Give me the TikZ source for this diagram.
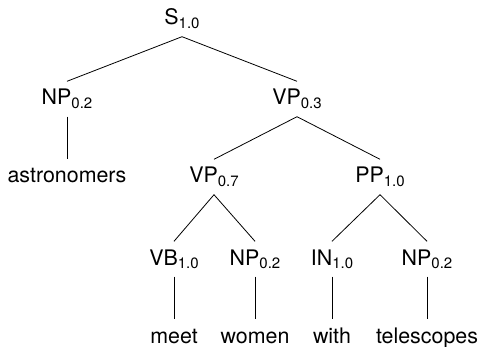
\documentclass[tikz,border=0pt]{standalone}
\usepackage{fontspec}
\setmainfont{TeX Gyre Heros}
% category label with a lowered probability subscript
\newcommand{\syncat}[2]{#1\raisebox{-3.3pt}{\fontsize{15}{15}\selectfont #2}}
\begin{document}
\begin{tikzpicture}[x=1pt,y=-1pt,
  tn/.style={inner xsep=0pt, inner ysep=7.5pt, text height=16pt, text depth=4pt,
             anchor=base, font=\fontsize{21.4}{25}\selectfont},
  edge/.style={draw=black, line width=0.8pt}]
\useasboundingbox (0,0) rectangle (481,347);
% constituents
\node[tn] (s)    at (182,25)  {\syncat{S}{1.0}};
\node[tn] (np1)  at (67,105)  {\syncat{NP}{0.2}};
\node[tn] (vp1)  at (297,105) {\syncat{VP}{0.3}};
\node[tn] (astr) at (67,183)  {astronomers};
\node[tn] (vp2)  at (214,183) {\syncat{VP}{0.7}};
\node[tn] (pp)   at (380,183) {\syncat{PP}{1.0}};
\node[tn] (vb)   at (174,265) {\syncat{VB}{1.0}};
\node[tn] (np2)  at (255,265) {\syncat{NP}{0.2}};
\node[tn] (in)   at (332,265) {\syncat{IN}{1.0}};
\node[tn] (np3)  at (427,265) {\syncat{NP}{0.2}};
\node[tn] (meet) at (174,343) {meet};
\node[tn] (wom)  at (255,343) {women};
\node[tn] (with) at (332,343) {with};
\node[tn] (tel)  at (427,343) {telescopes};
% branches
\draw[edge] (s.south) -- (np1.north);
\draw[edge] (s.south) -- (vp1.north);
\draw[edge] (np1.south) -- (astr.north);
\draw[edge] (vp1.south) -- (vp2.north);
\draw[edge] (vp1.south) -- (pp.north);
\draw[edge] (vp2.south) -- (vb.north);
\draw[edge] (vp2.south) -- (np2.north);
\draw[edge] (pp.south) -- (in.north);
\draw[edge] (pp.south) -- (np3.north);
\draw[edge] (vb.south) -- (meet.north);
\draw[edge] (np2.south) -- (wom.north);
\draw[edge] (in.south) -- (with.north);
\draw[edge] (np3.south) -- (tel.north);
\end{tikzpicture}
\end{document}
